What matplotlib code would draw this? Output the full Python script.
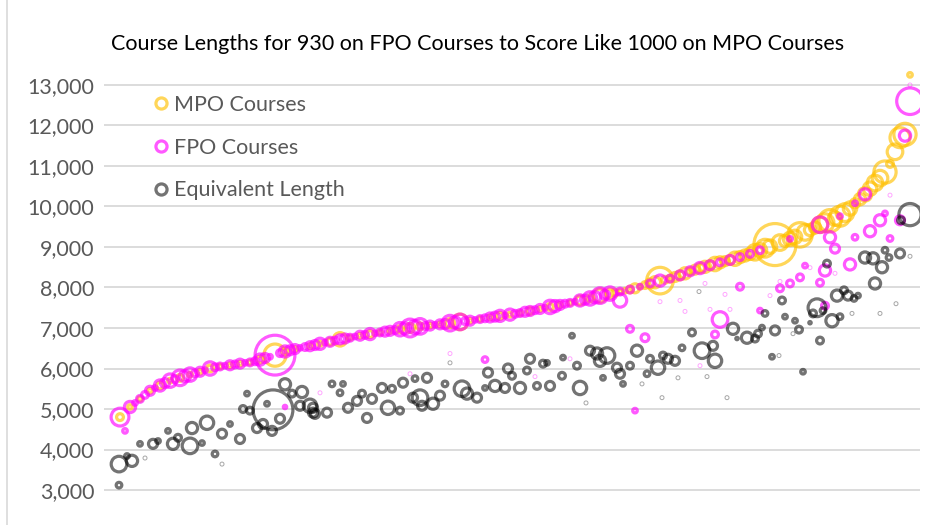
import matplotlib.pyplot as plt
from matplotlib.lines import Line2D
import numpy as np

plt.rcParams['font.family'] = ['Lato', 'DejaVu Sans']

# MPO courses, sorted by length (x = course rank)
mpo_x = [2, 4, 6, 8, 10, 12, 14, 16, 18, 20, 22, 24, 26, 28, 30, 33, 35, 37, 40, 42,
         44, 46, 48, 50, 52, 54, 56, 58, 60, 62, 64, 66, 68, 70, 72, 74, 76, 78, 80, 82,
         84, 86, 88, 90, 92, 94, 96, 98, 100, 102, 104, 106, 108, 110, 112, 114, 116, 118, 120, 122,
         124, 126, 128, 130, 133, 136, 138, 140, 142, 144, 146, 148, 149, 151, 153, 155, 156, 157, 158, 159,
         160,
         101, 103, 105, 107, 109, 111, 113, 115, 117, 119, 121, 123, 125, 127, 129, 131, 132, 134, 135, 137,
         139, 141, 143, 145, 147, 150, 152, 154]
mpo_len = [4800, 5050, 5250, 5450, 5580, 5700, 5770, 5850, 5920, 6000, 6050, 6080, 6120, 6150, 6220, 6330, 6420, 6480, 6550, 6610,
           6660, 6720, 6760, 6810, 6850, 6890, 6930, 6970, 7000, 7040, 7060, 7090, 7120, 7150, 7180, 7220, 7260, 7300, 7330, 7370,
           7420, 7470, 7520, 7570, 7620, 7680, 7730, 7800, 7850, 7900, 7950, 8020, 8100, 8170, 8220, 8300, 8400, 8480, 8550, 8620,
           8680, 8750, 8830, 8920, 9060, 9200, 9300, 9420, 9550, 9650, 9760, 9950, 10080, 10300, 10580, 10850, 11050, 11350, 11700, 11780,
           13250,
           7870, 7920, 7980, 8060, 8130, 8190, 8260, 8350, 8440, 8510, 8580, 8650, 8710, 8790, 8870, 8970, 9010, 9110, 9150, 9250,
           9360, 9480, 9600, 9700, 9850, 10180, 10440, 10700]
mpo_rounds = [16, 9, 9, 9, 16, 9, 16, 9, 9, 16, 9, 9, 9, 9, 16, 121, 16, 9, 9, 9,
              16, 49, 9, 9, 16, 9, 9, 16, 25, 16, 9, 9, 25, 64, 9, 9, 9, 16, 9, 9,
              16, 9, 16, 9, 9, 25, 16, 49, 25, 9, 16, 9, 25, 169, 16, 25, 16, 25, 25, 36,
              25, 36, 36, 49, 400, 49, 144, 36, 64, 121, 100, 49, 25, 49, 64, 121, 16, 64, 100, 121,
              9,
              16, 9, 25, 16, 36, 16, 25, 36, 25, 36, 49, 25, 49, 36, 64, 81, 49, 64, 36, 49,
              64, 36, 81, 49, 81, 36, 49, 64]

# FPO courses
fpo_x = [2, 3, 4, 6, 8, 10, 12, 14, 16, 18, 20, 22, 24, 26, 28, 30, 33, 35, 37, 40,
         42, 44, 46, 48, 50, 52, 54, 56, 58, 60, 62, 64, 66, 68, 70, 72, 74, 76, 78, 80,
         82, 84, 86, 88, 90, 92, 94, 96, 98, 100, 102, 104, 106, 108, 110, 112, 114, 116, 118, 120,
         122, 124, 126, 128, 130, 136, 142, 146, 149, 151, 159, 160,
         5, 7, 9, 11, 13, 15, 17, 19, 21, 23, 25, 27, 29, 31, 32, 34, 36, 38, 39, 41,
         43, 45, 47, 49, 51, 53, 55, 57, 59, 61, 63, 65, 67, 69, 71, 73, 75, 77, 79, 81,
         83, 85, 87, 89, 91, 93, 95, 97, 99,
         35, 75, 102, 104, 107, 105, 121, 122, 126, 130, 134, 136, 138, 139, 142, 143, 143, 144,
         145, 148, 149, 152, 154, 155, 156, 158,
         42, 60, 68, 85, 92, 110, 114, 115, 118, 119, 120, 123, 124, 132, 134, 140, 145, 156, 160]
fpo_len = [4800, 4460, 5050, 5250, 5450, 5580, 5700, 5770, 5850, 5920, 6000, 6050, 6080, 6120, 6150, 6220, 6330, 6420, 6480, 6550,
           6610, 6660, 6720, 6760, 6810, 6850, 6890, 6930, 6970, 7000, 7040, 7060, 7090, 7120, 7150, 7180, 7220, 7260, 7300, 7330,
           7370, 7420, 7470, 7520, 7570, 7620, 7680, 7730, 7800, 7850, 7900, 7950, 8020, 8100, 8170, 8220, 8300, 8400, 8480, 8550,
           8620, 8680, 8750, 8830, 8920, 9200, 9550, 9760, 10080, 10300, 11750, 12600,
           5150, 5350, 5520, 5640, 5740, 5810, 5880, 5960, 6030, 6070, 6100, 6140, 6180, 6260, 6290, 6380, 6450, 6510, 6530, 6580,
           6640, 6690, 6740, 6790, 6830, 6870, 6910, 6950, 6990, 7020, 7050, 7080, 7100, 7140, 7170, 7200, 7240, 7280, 7310, 7350,
           7400, 7440, 7500, 7540, 7600, 7650, 7700, 7760, 7820,
           5050, 6220, 7680, 6980, 6760, 4960, 6840, 7210, 8020, 7430, 7980, 8100, 8250, 8540, 8120, 8420, 7550, 9240,
           8960, 8570, 9240, 9390, 9660, 9830, 9210, 9660,
           5400, 5870, 6370, 5800, 6240, 7650, 7680, 7410, 6070, 8100, 7460, 7830, 7460, 7800, 8150, 8490, 8350, 10280, 13000]
fpo_rounds = [81, 9, 36, 16, 25, 36, 49, 64, 49, 25, 49, 16, 25, 25, 16, 36, 361, 36, 25, 25,
              36, 25, 25, 16, 25, 36, 16, 25, 49, 81, 64, 25, 25, 64, 64, 25, 16, 25, 36, 36,
              16, 25, 25, 49, 25, 16, 36, 49, 64, 49, 16, 16, 9, 16, 36, 16, 25, 25, 36, 25,
              16, 25, 16, 16, 16, 9, 64, 9, 9, 36, 36, 169,
              9, 16, 9, 25, 16, 36, 16, 9, 16, 9, 16, 9, 16, 25, 9, 16, 25, 9, 16, 25,
              9, 16, 25, 9, 16, 9, 25, 16, 36, 49, 16, 9, 25, 36, 16, 9, 16, 25, 9, 16,
              25, 16, 9, 36, 16, 9, 25, 36, 25,
              6, 12, 49, 16, 20, 9, 16, 64, 16, 9, 16, 16, 16, 9, 16, 36, 16, 36,
              25, 36, 12, 36, 36, 9, 12, 25,
              2, 2, 2, 2, 2, 2, 2, 2, 2, 2, 2, 2, 2, 2, 2, 2, 2, 2, 2]

# Equivalent FPO length
eq_x = [1.8, 1.8, 4.4, 3.4, 6, 7, 8.6, 9.6, 11.6, 12.6, 13.6, 16, 16.4, 18.4, 19.4, 21, 22.4, 22.4, 24, 26,
        26.6, 27.4, 28, 29.4, 32.6, 30.6, 32.4, 34, 36.4, 38, 40.6, 41, 43.4, 44.4, 46, 46.6, 47.6, 49.4, 50.4, 51.4,
        52.4, 54.4, 55.6, 56.4, 58, 58.6, 60.6, 61, 62, 62.4, 63.4, 64.6, 66, 67, 68, 70.4, 71.4, 73.4, 75, 75.6,
        77, 79, 79.6, 80.4, 82, 83.4, 84, 85.4, 86.6, 87.4, 88, 90.4, 90.6, 92.4, 93.4, 94, 95.2, 96, 97.4, 98,
        98.6, 99.4, 101.4, 102, 102.6, 104, 105.4, 106.4, 107.4, 108, 109.6, 110.4, 110.6, 111.6, 113, 113.6, 114.4, 116.4, 117.8, 118.4,
        119.4, 120.6, 121, 123.4, 124.6, 125.4, 127.4, 129, 129.6, 130.4, 131, 132.4, 133, 133.8, 134.4, 135, 136.6, 137, 137.8, 138.6,
        140, 140.6, 141.4, 142, 142.6, 143.4, 144.4, 145.4, 146, 146.8, 147.6, 148.4, 148.8, 149.6, 151, 152.6, 153, 154, 154.4, 155,
        155.8, 157.2, 158, 158.2, 160, 160, 31.4, 35, 38.4, 40.6, 40]
eq_len = [3640, 3120, 3720, 3840, 4140, 3790, 4140, 4210, 4460, 4140, 4290, 4090, 4530, 4160, 4660, 3890, 3640, 4390, 4630, 4260,
          5000, 5380, 4960, 4530, 4980, 4630, 4460, 4760, 5380, 5080, 5030, 4880, 4910, 5620, 5400, 5620, 5030, 5200, 5380, 4780,
          5250, 5520, 5030, 5500, 4960, 5650, 5280, 5750, 5280, 5080, 5770, 5130, 5330, 5620, 6140, 5500, 5380, 5280, 5520, 5900,
          5570, 5520, 6000, 5820, 5520, 5950, 6240, 5570, 6120, 6140, 5570, 5820, 6270, 6810, 6070, 5520, 5150, 6440, 6370, 6190,
          5770, 6320, 6020, 5870, 5620, 6070, 6440, 5620, 5870, 6240, 6020, 5280, 6320, 6240, 6190, 5770, 6510, 6890, 7900, 6440,
          5800, 6560, 6190, 5280, 6980, 6740, 6760, 6740, 6860, 7010, 7360, 6290, 6940, 6320, 7680, 7280, 6860, 7180, 6960, 5920,
          7130, 7360, 7500, 6690, 7430, 8590, 7180, 7800, 7280, 7930, 7800, 7360, 7730, 7800, 8740, 8720, 8100, 7360, 8500, 8920,
          8740, 7600, 8840, 9660, 9800, 8770, 5130, 5610, 5420, 4910, 5080]
eq_rounds = [64, 12, 36, 9, 9, 2, 25, 9, 9, 36, 16, 64, 36, 9, 49, 12, 2, 25, 9, 25,
             16, 9, 16, 25, 361, 25, 25, 25, 16, 25, 25, 25, 25, 12, 12, 9, 25, 25, 16, 25,
             25, 25, 49, 16, 16, 25, 25, 12, 64, 25, 25, 36, 25, 12, 2, 64, 36, 25, 9, 25,
             36, 25, 25, 16, 36, 16, 25, 16, 16, 9, 25, 16, 9, 9, 16, 49, 2, 25, 36, 36,
             9, 64, 25, 25, 9, 16, 36, 2, 12, 16, 49, 2, 16, 25, 25, 2, 12, 16, 2, 64,
             2, 25, 49, 2, 36, 4, 36, 16, 16, 9, 12, 9, 25, 2, 16, 9, 2, 9, 16, 9,
             4, 16, 81, 16, 12, 16, 42, 36, 12, 16, 25, 2, 12, 9, 36, 36, 36, 2, 36, 12,
             12, 2, 25, 16, 121, 2, 9, 36, 36, 25, 49]


def bubble_sizes(rounds):
    # bubble diameter ~ sqrt(rounds), converted to scatter area in pt^2
    d_px = np.maximum(2.2 * np.sqrt(np.array(rounds, dtype=float)) - 2, 2)
    return (d_px * 72 / 100) ** 2


def draw_series(ax, x, y, rounds, color, alpha):
    x = np.array(x)
    y = np.array(y)
    r = np.array(rounds)
    main = r > 3
    ax.scatter(x[main], y[main], s=bubble_sizes(r[main]), facecolors='none',
               edgecolors=color, linewidths=2.3, alpha=alpha, zorder=3)
    ax.scatter(x[~main], y[~main], s=(4 * 0.72) ** 2, facecolors='none',
               edgecolors=color, linewidths=0.7, alpha=0.35, zorder=3)


fig = plt.figure(figsize=(9.37, 5.25), dpi=100)
ax = fig.add_axes([104 / 937, 1 - 515 / 525, (920 - 104) / 937, (515 - 60) / 525])

draw_series(ax, mpo_x, mpo_len, mpo_rounds, '#FFC000', 0.65)
draw_series(ax, fpo_x, fpo_len, fpo_rounds, '#FF00FF', 0.65)
draw_series(ax, eq_x, eq_len, eq_rounds, '#000000', 0.55)

ax.set_xlim(-1.2, 162)
ax.set_ylim(2383, 13617)
ax.set_yticks(range(3000, 14000, 1000))
ax.set_yticklabels(['{:,}'.format(v) for v in range(3000, 14000, 1000)])
ax.set_xticks([])
ax.tick_params(axis='y', length=0, pad=7, labelsize=15.5, labelcolor='#595959')
ax.grid(axis='y', color='#D9D9D9', linewidth=1.3, zorder=0)
ax.set_axisbelow(True)
for sp in ax.spines.values():
    sp.set_visible(False)

fig.text(478 / 937, 1 - 44 / 525,
         'Course Lengths for 930 on FPO Courses to Score Like 1000 on MPO Courses',
         ha='center', va='center', fontsize=15.5, color='#000000')

handles = [
    Line2D([], [], linestyle='none', marker='o', markersize=8, markerfacecolor='none',
           markeredgecolor='#FFC000', markeredgewidth=2.3, alpha=0.65, label='MPO Courses'),
    Line2D([], [], linestyle='none', marker='o', markersize=8, markerfacecolor='none',
           markeredgecolor='#FF00FF', markeredgewidth=2.3, alpha=0.65, label='FPO Courses'),
    Line2D([], [], linestyle='none', marker='o', markersize=8, markerfacecolor='none',
           markeredgecolor='#000000', markeredgewidth=2.3, alpha=0.55, label='Equivalent Length'),
]
fig.legend(handles=handles, loc='upper left', bbox_to_anchor=(152 / 937, 1 - 95 / 525),
           frameon=False, fontsize=15.5, labelcolor='#595959', handlelength=0.8,
           handletextpad=0.2, labelspacing=1.05, borderpad=0, borderaxespad=0)

# chart area border (only the left edge shows in the crop)
fig.add_artist(Line2D([7 / 937, 7 / 937], [0, 1], transform=fig.transFigure,
                      color='#D9D9D9', linewidth=1.2))

plt.savefig('out.png', dpi=100)
